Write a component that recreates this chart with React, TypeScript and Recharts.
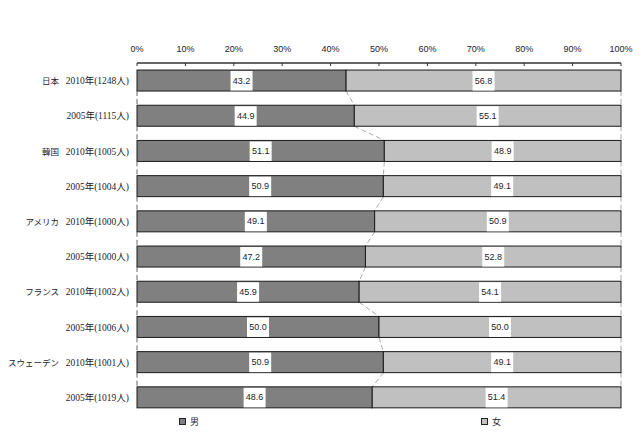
import React from 'react';
import { BarChart, Bar, XAxis, YAxis, LabelList } from 'recharts';

// 国名（2010年の行にだけ表示）
const countries = ['日本', '', '韓国', '', 'アメリカ', '', 'フランス', '', 'スウェーデン', ''];
const surveys = [
  '2010年(1248人)',
  '2005年(1115人)',
  '2010年(1005人)',
  '2005年(1004人)',
  '2010年(1000人)',
  '2005年(1000人)',
  '2010年(1002人)',
  '2005年(1006人)',
  '2010年(1001人)',
  '2005年(1019人)',
];
const maleShare = [43.2, 44.9, 51.1, 50.9, 49.1, 47.2, 45.9, 50.0, 50.9, 48.6];
const femaleShare = [56.8, 55.1, 48.9, 49.1, 50.9, 52.8, 54.1, 50.0, 49.1, 51.4];
const percentTicks = [0, 10, 20, 30, 40, 50, 60, 70, 80, 90, 100];

const data = surveys.map((s, i) => ({
  key: String(i),
  survey: s,
  country: countries[i],
  male: maleShare[i],
  female: femaleShare[i],
}));

const MALE = '#808080';
const FEMALE = '#c0c0c0';
const EDGE = '#1a1a1a';
const TEXT = '#1c1c2e';
const LABEL_FONT = '"Liberation Serif", "Noto Sans CJK JP", serif';
const NUM_FONT = '"Liberation Sans", "DejaVu Sans", sans-serif';

// 各行の棒の上端を覚えておき、区分線（破線）を前の行とつなぐ
const rowTops: number[] = [];

const MaleShape = (props: any) => {
  const { x, y, width, height, index } = props;
  rowTops[index] = y;
  const unit = width / maleShare[index];
  const lines: React.ReactNode[] = [];
  if (index > 0 && rowTops[index - 1] !== undefined) {
    const prevBottom = rowTops[index - 1] + height;
    const prevEdge = x + maleShare[index - 1] * unit;
    const right = x + 100 * unit;
    const dash = { stroke: '#aaa', strokeWidth: 1, strokeDasharray: '5 3' };
    lines.push(<line key="l" x1={x} y1={prevBottom} x2={x} y2={y} {...dash} stroke="#666" />);
    lines.push(<line key="m" x1={prevEdge} y1={prevBottom} x2={x + width} y2={y} {...dash} />);
    lines.push(<line key="r" x1={right} y1={prevBottom} x2={right} y2={y} {...dash} />);
  }
  return (
    <g>
      {lines}
      <rect x={x} y={y} width={width} height={height} fill={MALE} stroke={EDGE} strokeWidth={1} />
    </g>
  );
};

const FemaleShape = (props: any) => {
  const { x, y, width, height } = props;
  return <rect x={x} y={y} width={width} height={height} fill={FEMALE} stroke={EDGE} strokeWidth={1} />;
};

const ValueBox = (props: any) => {
  const { x, y, width, height, value } = props;
  const cx = x + width / 2;
  return (
    <g>
      <rect x={cx - 11} y={y + 1} width={22} height={height - 1.5} fill="#fff" />
      <text x={cx} y={y + height / 2 + 3} textAnchor="middle" fontSize={9} fontFamily={NUM_FONT} fill={TEXT}>
        {Number(value).toFixed(1)}
      </text>
    </g>
  );
};

const RowTick = (props: any) => {
  const { y, payload } = props;
  const row = data.find((d) => d.key === payload.value);
  return (
    <g>
      {row?.country ? (
        <text x={59} y={y + 3.5} textAnchor="end" fontSize={8.5} fontFamily={LABEL_FONT} fill={TEXT}>
          {row.country}
        </text>
      ) : null}
      <text x={129} y={y + 3.5} textAnchor="end" fontSize={9.5} fontFamily={LABEL_FONT} fill={TEXT}>
        {row?.survey}
      </text>
    </g>
  );
};

const legendItems = [
  { name: '男', color: MALE, left: 179 },
  { name: '女', color: FEMALE, left: 481 },
];

export default function App() {
  return (
    <div style={{ position: 'absolute', left: 0, top: 0, width: 640, height: 436, background: '#fff' }}>
      <BarChart
        width={640}
        height={436}
        data={data}
        layout="vertical"
        margin={{ top: 33, right: 19, bottom: 21, left: 0 }}
        barCategoryGap="20%"
      >
        <XAxis
          type="number"
          orientation="top"
          domain={[0, 100]}
          ticks={percentTicks}
          tickFormatter={(v) => `${v}%`}
          height={30}
          axisLine={{ stroke: '#333', strokeWidth: 1.5 }}
          tickLine={{ stroke: '#333' }}
          tickSize={-3}
          tickMargin={14}
          tick={{ fontSize: 9, fontFamily: NUM_FONT, fill: TEXT }}
          interval={0}
        />
        <YAxis
          type="category"
          dataKey="key"
          width={137}
          axisLine={false}
          tickLine={false}
          tick={<RowTick />}
          interval={0}
        />
        <Bar dataKey="male" name="男" stackId="a" fill={MALE} shape={<MaleShape />} isAnimationActive={false}>
          <LabelList dataKey="male" content={<ValueBox />} />
        </Bar>
        <Bar dataKey="female" name="女" stackId="a" fill={FEMALE} shape={<FemaleShape />} isAnimationActive={false}>
          <LabelList dataKey="female" content={<ValueBox />} />
        </Bar>
      </BarChart>
      {legendItems.map((it) => (
        <div
          key={it.name}
          style={{
            position: 'absolute',
            left: it.left,
            top: 415,
            display: 'flex',
            alignItems: 'center',
            fontFamily: LABEL_FONT,
            fontSize: 9,
            color: TEXT,
          }}
        >
          <span style={{ width: 5, height: 5, background: it.color, border: '1px solid #222', display: 'inline-block' }} />
          <span style={{ marginLeft: 4 }}>{it.name}</span>
        </div>
      ))}
    </div>
  );
}
